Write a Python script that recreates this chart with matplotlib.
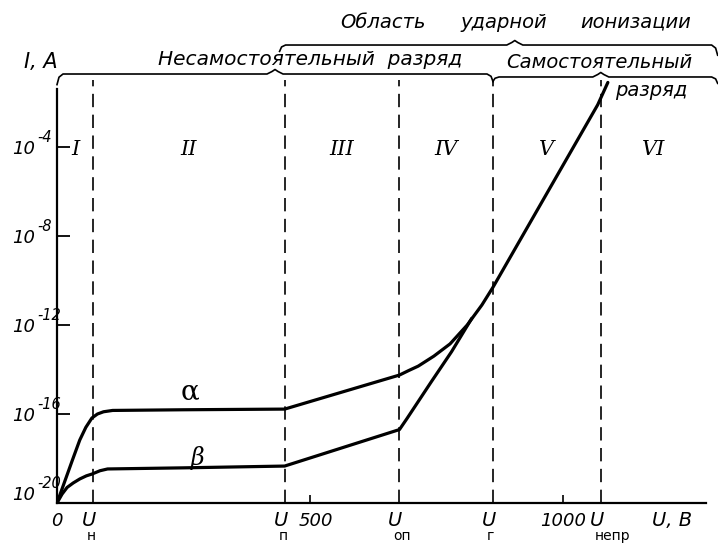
import matplotlib
matplotlib.use('agg')
import matplotlib.pyplot as plt
import numpy as np

plt.rcParams['font.family'] = 'DejaVu Sans'

# characteristic voltages, V
U_n = 71
U_p = 450
U_op = 677
U_g = 862
U_nepr = 1075
x_max = 1283

# curve alpha (log10 of current, A)
alpha_U = [0, 15, 30, 45, 57, 69, 80, 92, 110, 250, 450, 677, 695, 714, 745, 777, 811,
           840, 862, 1069, 1089]
alpha_logI = [-20, -19.05, -18.1, -17.17, -16.6, -16.18, -16.0, -15.9, -15.84, -15.81,
              -15.78, -14.25, -14.05, -13.85, -13.4, -12.85, -12.0, -11.1, -10.3, -2.1, -1.1]

# curve beta, joins alpha near U = 820 V
beta_U = [0, 10, 20, 32, 45, 58, 69, 85, 100, 250, 450, 677, 692, 740, 780, 820]
beta_logI = [-20, -19.6, -19.3, -19.1, -18.92, -18.78, -18.7, -18.55, -18.47, -18.42,
             -18.34, -16.7, -16.2, -14.55, -13.2, -11.7]

region_names = ['I', 'II', 'III', 'IV', 'V', 'VI']
region_edges = [0, U_n, U_p, U_op, U_g, U_nepr, x_max]

ytick_exp = [-4, -8, -12, -16, -20]
# voltage marks under the axis: (value, subscript)
u_marks = [(U_n, 'н'), (U_p, 'п'), (U_op, 'оп'), (U_g, 'г'), (U_nepr, 'непр')]
num_marks = [0, 500, 1000]

W, H = 718, 543
PX = 1283 / 649          # V per pixel
PY = 1 / 425             # axes fraction per pixel
DEC = 22.25              # pixels per decade

fig = plt.figure(figsize=(W / 100, H / 100), dpi=100)
ax = fig.add_axes([57 / W, 40 / H, 649 / W, 425 / H])

ax.plot(alpha_U, 10 ** np.array(alpha_logI), color='black', lw=2.3, solid_capstyle='round')
ax.plot(beta_U, 10 ** np.array(beta_logI), color='black', lw=2.3, solid_capstyle='round')

ax.set_yscale('log')
ax.set_xlim(0, x_max)
ax.set_ylim(1e-20, 10 ** -0.9)

for s in ['top', 'right']:
    ax.spines[s].set_visible(False)
ax.spines['left'].set_linewidth(1.6)
ax.spines['bottom'].set_linewidth(1.6)
ax.spines['left'].set_bounds(1e-20, 10 ** -1.4)

# dashed boundaries
for u, sub in u_marks:
    ax.plot([u, u], [0, 0.995], transform=ax.get_xaxis_transform(), color='black',
            lw=1.2, dashes=(8, 4.5), clip_on=False)

# y ticks, labels drawn as "10" plus raised exponent
ax.set_yticks([10.0 ** e for e in ytick_exp])
ax.set_yticklabels([])
ax.yaxis.set_minor_locator(matplotlib.ticker.NullLocator())
ax.tick_params(axis='y', direction='in', length=9, width=1.3)
yt = ax.get_yaxis_transform()
for e in ytick_exp:
    shift = 8 if e == -20 else -2
    ax.text(-22 / 649, 10.0 ** (e + shift / DEC), '10', transform=yt,
            fontsize=13, fontstyle='italic', ha='right', va='center')
    ax.text(-20 / 649, 10.0 ** (e + (shift + 11) / DEC), str(e), transform=yt,
            fontsize=10.5, fontstyle='italic', ha='left', va='center')

# x ticks
ax.set_xticks([500, 1000])
ax.set_xticklabels([])
ax.tick_params(axis='x', direction='in', length=6, width=1.2)
xt = ax.get_xaxis_transform()
for v in num_marks:
    ax.text(v + (12 if v == 500 else 0), -0.042, str(v), transform=xt, fontsize=13,
            fontstyle='italic', ha='center', va='center')
for u, sub in u_marks:
    ax.text(u - 4 * PX, -0.042, 'U', transform=xt, fontsize=14, fontstyle='italic',
            ha='center', va='center')
    ax.text(u - 6 * PX, -0.078, sub, transform=xt, fontsize=10, ha='left', va='center')
ax.text(1215, -0.042, 'U, В', transform=xt, fontsize=14, fontstyle='italic',
        ha='center', va='center')

# roman numerals for regions
for i, name in enumerate(region_names):
    xm = (region_edges[i] + region_edges[i + 1]) / 2
    ax.text(xm, 10 ** -4.1, name, fontsize=15, fontfamily='DejaVu Serif',
            fontstyle='italic', ha='center', va='center')

ax.text(263, 10 ** -15.0, 'α', fontsize=20, ha='center', va='center', fontfamily='DejaVu Serif')
ax.text(277, 10 ** -17.98, 'β', fontsize=17, ha='center', va='center',
        fontfamily='DejaVu Serif', fontstyle='italic')


def brace(x0, x1, xm, y, drop0=0.017, drop1=0.017):
    xs = [x0, x0 + 2 * PX, x0 + 6 * PX, xm - 8 * PX, xm - 3 * PX, xm, xm + 3 * PX,
          xm + 8 * PX, x1 - 6 * PX, x1 - 2 * PX, x1]
    ys = [y - drop0, y - 0.3 * drop0, y, y, y + 2.5 * PY, y + 4.5 * PY, y + 2.5 * PY,
          y, y, y - 0.3 * drop1, y - drop1]
    ax.plot(xs, ys, transform=ax.get_xaxis_transform(), color='black', lw=1.2,
            clip_on=False)


brace(0, U_g, (0 + U_g) / 2, 1.0094, drop0=0.025, drop1=0.018)
brace(U_g, 1306, U_nepr, 1.0024, drop0=0.01, drop1=0.015)
brace(U_p - 10, 1306, 905, 1.0776, drop0=0.015, drop1=0.024)

fig.text(41 / W, 1 - 62 / H, 'I, A', fontsize=15, fontstyle='italic', ha='center', va='center')
fig.text(310 / W, 1 - 60 / H, 'Несамостоятельный  разряд', fontsize=14.5,
         fontstyle='italic', ha='center', va='center')
for word, xc in [('Область', 383), ('ударной', 504), ('ионизации', 636)]:
    fig.text(xc / W, 1 - 22 / H, word, fontsize=14, fontstyle='italic',
             ha='center', va='center')
fig.text(599 / W, 1 - 63 / H, 'Самостоятельный', fontsize=14,
         fontstyle='italic', ha='center', va='center')
fig.text(651 / W, 1 - 90 / H, 'разряд', fontsize=14,
         fontstyle='italic', ha='center', va='center')

fig.savefig('out.png', dpi=100)
